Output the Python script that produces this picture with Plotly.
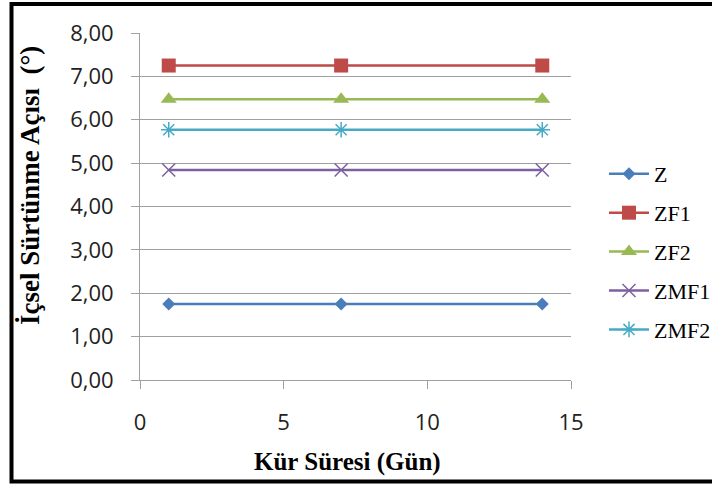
import plotly.graph_objects as go

days = [1, 7, 14]
series_names = ["Z", "ZF1", "ZF2", "ZMF1", "ZMF2"]
z_vals = [1.75, 1.75, 1.75]
zf1_vals = [7.25, 7.25, 7.25]
zf2_vals = [6.47, 6.47, 6.47]
zmf1_vals = [4.84, 4.84, 4.84]
zmf2_vals = [5.77, 5.77, 5.77]
y_ticks = [0, 1, 2, 3, 4, 5, 6, 7, 8]
x_ticks = [0, 5, 10, 15]

values = [z_vals, zf1_vals, zf2_vals, zmf1_vals, zmf2_vals]
colors = ["#4a7ebb", "#be4b48", "#98b954", "#7d60a0", "#46aac5"]
symbols = ["diamond", "square", "triangle-up", "x-thin-open", "asterisk-open"]
sizes = [10, 14, 14, 13, 13]

fig = go.Figure()
for i, (name, vals) in enumerate(zip(series_names, values)):
    marker = dict(symbol=symbols[i], size=sizes[i], color=colors[i])
    if "open" in symbols[i]:
        marker["line"] = dict(color=colors[i], width=1.5)
    fig.add_trace(go.Scatter(
        x=days, y=vals, name=name, mode="lines+markers",
        line=dict(color=colors[i], width=2.5),
        marker=marker, legendgroup=name,
    ))

L, R, T, B = 140, 141, 33, 104
W, H = 712, 484
pw, ph = W - L - R, H - T - B

def px_x(x):
    return (x - L) / pw

def px_y(y):
    return 1 - (y - T) / ph

fig.update_layout(
    width=W, height=H,
    margin=dict(l=L, r=R, t=T, b=B, autoexpand=False),
    paper_bgcolor="white", plot_bgcolor="white",
    separators=",.",
    showlegend=True,
    legend=dict(
        x=px_x(604), y=px_y(153), xanchor="left", yanchor="top",
        font=dict(family="Liberation Serif", size=22, color="black"),
        traceorder="grouped", tracegroupgap=7.3, itemwidth=40,
        bgcolor="rgba(0,0,0,0)",
    ),
    xaxis=dict(
        range=[0, 15], tickvals=x_ticks, showgrid=False,
        showline=True, linecolor="#a0a0a0", linewidth=1,
        ticks="outside", ticklen=8, tickcolor="#a0a0a0",
        tickfont=dict(family="Open Sans", size=22, color="#222222"),
        ticklabelstandoff=15, zeroline=False,
    ),
    yaxis=dict(
        range=[0, 8], tickvals=y_ticks, tickformat=".2f",
        showgrid=True, gridcolor="#a0a0a0", gridwidth=1,
        showline=True, linecolor="#a0a0a0", linewidth=1,
        ticks="outside", ticklen=8, tickcolor="#a0a0a0",
        tickfont=dict(family="Open Sans", size=22, color="#222222"),
        ticklabelstandoff=13, zeroline=False,
    ),
    annotations=[
        dict(text="<b>Kür Süresi (Gün)</b>", xref="paper", yref="paper",
             x=px_x(347), y=px_y(462), showarrow=False,
             xanchor="center", yanchor="middle",
             font=dict(family="Liberation Serif", size=25, color="black")),
        dict(text="<b>İçsel Sürtünme Açısı  (°)</b>", xref="paper", yref="paper",
             x=px_x(30), y=px_y(185), showarrow=False, textangle=-90,
             xanchor="center", yanchor="middle",
             font=dict(family="Liberation Serif", size=27, color="black")),
    ],
    shapes=[
        dict(type="rect", xref="paper", yref="paper",
             x0=px_x(11.5), x1=px_x(720), y0=px_y(481.5), y1=px_y(4),
             line=dict(color="black", width=4), fillcolor="rgba(0,0,0,0)"),
    ],
)

fig.write_html("out.html")
